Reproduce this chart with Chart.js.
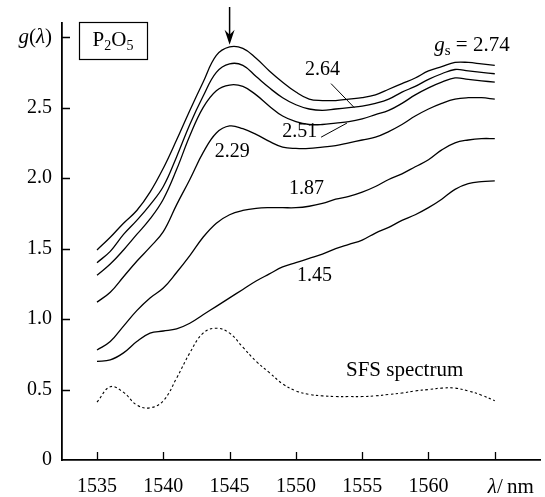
<!DOCTYPE html>
<html><head><meta charset="utf-8">
<script src="https://cdn.jsdelivr.net/npm/chart.js@4/dist/chart.umd.min.js"></script>
<style>html,body{margin:0;padding:0;background:#fff}#wrap{width:545px;height:497px;position:relative}</style>
</head><body><div id="wrap"><canvas id="c" width="545" height="497"></canvas></div>
<script>
// ---- data ----
const wavelengths = [1535,1536,1537,1538,1539,1540,1541,1542,1543,1544,1545,1546,1547,1548,1549,1550,1551,1552,1553,1554,1555,1556,1557,1558,1559,1560,1561,1562,1563,1564,1565];
const g274 = [1.49,1.58,1.68,1.77,1.90,2.07,2.27,2.48,2.68,2.87,2.93,2.92,2.85,2.76,2.68,2.61,2.56,2.55,2.55,2.56,2.57,2.59,2.63,2.67,2.71,2.76,2.79,2.82,2.82,2.81,2.80];
const g264 = [1.40,1.48,1.60,1.70,1.81,1.94,2.15,2.38,2.58,2.75,2.81,2.80,2.72,2.64,2.57,2.52,2.49,2.48,2.49,2.50,2.51,2.53,2.56,2.61,2.65,2.70,2.74,2.77,2.76,2.75,2.74];
const g251 = [1.31,1.39,1.49,1.60,1.71,1.85,2.06,2.30,2.50,2.62,2.66,2.65,2.59,2.51,2.44,2.40,2.38,2.38,2.39,2.40,2.42,2.45,2.48,2.53,2.59,2.64,2.68,2.71,2.70,2.69,2.68];
const g229 = [1.12,1.19,1.30,1.41,1.51,1.62,1.81,1.99,2.18,2.32,2.37,2.35,2.31,2.26,2.22,2.21,2.21,2.22,2.23,2.25,2.27,2.29,2.33,2.38,2.44,2.49,2.53,2.56,2.57,2.57,2.56];
const g187 = [0.78,0.84,0.95,1.06,1.15,1.22,1.33,1.45,1.58,1.68,1.74,1.77,1.785,1.79,1.79,1.79,1.80,1.82,1.85,1.87,1.90,1.94,1.99,2.03,2.08,2.13,2.20,2.25,2.27,2.28,2.28];
const g145 = [0.70,0.71,0.76,0.84,0.90,0.915,0.93,0.97,1.03,1.09,1.15,1.21,1.27,1.32,1.37,1.40,1.43,1.46,1.50,1.53,1.56,1.61,1.65,1.70,1.74,1.79,1.85,1.92,1.96,1.975,1.98];
const sfs  = [0.41,0.52,0.48,0.39,0.37,0.42,0.58,0.76,0.90,0.935,0.90,0.80,0.70,0.62,0.54,0.49,0.465,0.455,0.45,0.45,0.45,0.455,0.465,0.475,0.49,0.50,0.51,0.51,0.49,0.46,0.42];
const xTicks = [1535,1540,1545,1550,1555,1560,1565];
const yTicks = [0,0.5,1.0,1.5,2.0,2.5,3.0];
const curveLabels = ['2.64','2.51','2.29','1.87','1.45'];

const FONT = "'Liberation Serif', 'Times New Roman', serif";
const pts = arr => arr.map((v,i)=>({x:wavelengths[i], y:v}));
const solid = arr => ({data:pts(arr), borderColor:'#000', borderWidth:1.3, pointRadius:0, tension:0.4, fill:false});

const annot = {
  id:'annot',
  afterDraw(chart){
    const ctx = chart.ctx, xs = chart.scales.x, ys = chart.scales.y, ca = chart.chartArea;
    const X = v=>xs.getPixelForValue(v), Y = v=>ys.getPixelForValue(v);
    ctx.save();
    ctx.strokeStyle='#000'; ctx.fillStyle='#000'; ctx.lineWidth=1.3;
    // inward tick marks
    ctx.beginPath();
    xTicks.forEach(v=>{const px=Math.round(X(v))+0.5; ctx.moveTo(px,ca.bottom); ctx.lineTo(px,ca.bottom-8);});
    yTicks.forEach(v=>{if(v===0)return; const py=Math.round(Y(v))+0.5; ctx.moveTo(ca.left,py); ctx.lineTo(ca.left+8,py);});
    ctx.stroke();
    const reg = s=>`${s}px ${FONT}`, ita = s=>`italic ${s}px ${FONT}`;
    const seq = (parts, x, y, align)=>{ // parts: [text,font,dy]
      let w=0; parts.forEach(p=>{ctx.font=p[1]; w+=ctx.measureText(p[0]).width;});
      let cx = align==='right'? x-w : align==='center'? x-w/2 : x;
      ctx.textAlign='left'; ctx.textBaseline='alphabetic';
      parts.forEach(p=>{ctx.font=p[1]; ctx.fillText(p[0],cx,y+(p[2]||0)); cx+=ctx.measureText(p[0]).width;});
    };
    // y axis title g(λ)
    seq([['g',ita(21)],['(',reg(21)],['λ',ita(21)],[')',reg(21)]], ca.left-10, Y(3.0)+6, 'right');
    // x axis title λ/nm
    seq([['λ',ita(21)],['/\u2009nm',reg(21)]], X(1565)-7, ca.bottom+33, 'left');
    // P2O5 box
    ctx.lineWidth=1.2;
    ctx.strokeRect(79.5,22.5,68,37);
    seq([['P',reg(21)],['2',reg(14),4],['O',reg(21)],['5',reg(14),4]], 113, 46, 'center');
    // gs = 2.74
    seq([['g',ita(21)],['s',reg(15),4],[' = 2.74',reg(21)]], 472, 51, 'center');
    // curve labels
    ctx.font=reg(20); ctx.textAlign='center'; ctx.textBaseline='middle';
    ctx.fillText(curveLabels[0], X(1552.0), Y(2.765));
    ctx.fillText(curveLabels[1], X(1550.3), Y(2.33));
    ctx.fillText(curveLabels[2], X(1545.2), Y(2.185));
    ctx.fillText(curveLabels[3], X(1550.8), Y(1.925));
    ctx.fillText(curveLabels[4], X(1551.4), Y(1.31));
    ctx.font=reg(21);
    ctx.fillText('SFS spectrum', X(1558.2), Y(0.635));
    // leader lines
    ctx.lineWidth=1;
    ctx.beginPath();
    ctx.moveTo(X(1552.65),Y(2.67)); ctx.lineTo(X(1554.4),Y(2.50));
    ctx.moveTo(X(1551.9),Y(2.29)); ctx.lineTo(X(1553.85),Y(2.39));
    ctx.stroke();
    // arrow to the peak
    const ax = X(1545), tip = Y(2.945);
    ctx.lineWidth=1.5;
    ctx.beginPath(); ctx.moveTo(ax,7); ctx.lineTo(ax,tip-4); ctx.stroke();
    ctx.beginPath(); ctx.moveTo(ax,tip); ctx.lineTo(ax-5,tip-15); ctx.lineTo(ax,tip-10); ctx.lineTo(ax+5,tip-15); ctx.closePath(); ctx.fill();
    ctx.restore();
  }
};

new Chart(document.getElementById('c'), {
  type:'line',
  data:{datasets:[
    solid(g274), solid(g264), solid(g251), solid(g229), solid(g187), solid(g145),
    {data:pts(sfs), borderColor:'#000', borderWidth:1.1, borderDash:[2.5,2.5], pointRadius:0, tension:0.4, fill:false}
  ]},
  options:{
    responsive:false, animation:false, devicePixelRatio:1,
    layout:{padding:{top:23,right:5,left:0,bottom:0}},
    plugins:{legend:{display:false}, tooltip:{enabled:false}},
    scales:{
      x:{type:'linear', min:1532.36, max:1568.41,
        afterBuildTicks:s=>{s.ticks=xTicks.map(v=>({value:v}));},
        afterFit:s=>{s.height=37;},
        grid:{display:false, drawTicks:false},
        border:{display:true,color:'#000',width:1.8},
        ticks:{autoSkip:false, maxRotation:0, padding:15, color:'#000', font:{family:FONT,size:20},
          callback:v=> v===1565 ? '' : String(v)}},
      y:{type:'linear', min:0, max:3.1,
        afterBuildTicks:s=>{s.ticks=yTicks.map(v=>({value:v}));},
        afterFit:s=>{s.width=62;},
        grid:{display:false, drawTicks:false},
        border:{display:true,color:'#000',width:1.8},
        ticks:{autoSkip:false, padding:10, color:'#000', font:{family:FONT,size:20},
          callback:v=> v===0 ? '0' : (v===3 ? '' : v.toFixed(1))}}
    }
  },
  plugins:[annot]
});
</script></body></html>
